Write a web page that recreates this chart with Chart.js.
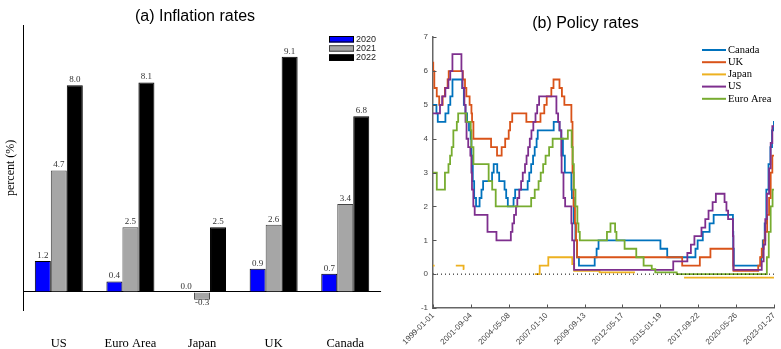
<!DOCTYPE html>
<html>
<head>
<meta charset="utf-8">
<script src="https://cdn.jsdelivr.net/npm/chart.js@4.4.1/dist/chart.umd.min.js"></script>
<style>
  body { margin: 0; background: #fff; }
  canvas { position: absolute; top: 0; }
</style>
</head>
<body>
<canvas id="inflation" width="390" height="349" style="left:0"></canvas>
<canvas id="policy" width="391" height="349" style="left:390px"></canvas>
<script>
// (a) inflation rates
const countries = ['US', 'Euro Area', 'Japan', 'UK', 'Canada'];
const infl2020 = [1.2, 0.4, 0.0, 0.9, 0.7];
const infl2021 = [4.7, 2.5, -0.3, 2.6, 3.4];
const infl2022 = [8.0, 8.1, 2.5, 9.1, 6.8];

// (b) policy rates, date the rate took effect
const caDates = ['1999-01-01','1999-03-31','1999-05-04','1999-11-17','2000-02-03','2000-03-22','2000-05-17','2001-01-23','2001-03-06','2001-04-17','2001-05-29','2001-07-17','2001-08-28','2001-09-17','2001-10-23','2001-11-27','2002-01-15','2002-04-16','2002-06-04','2002-07-16','2003-03-04','2003-04-15','2003-07-15','2003-09-03','2004-01-20','2004-03-02','2004-04-13','2004-09-08','2004-10-19','2005-09-07','2005-10-18','2005-12-06','2006-01-24','2006-03-07','2006-04-25','2006-05-24','2007-07-10','2007-12-04','2008-01-22','2008-03-04','2008-04-22','2008-10-08','2008-10-21','2008-12-09','2009-01-20','2009-03-03','2009-04-21','2010-06-01','2010-07-20','2010-09-08','2015-01-21','2015-07-15','2017-07-12','2017-09-06','2018-01-17','2018-07-11','2018-10-24','2020-03-04','2020-03-13','2020-03-27','2022-03-02','2022-04-13','2022-06-01','2022-07-13','2022-09-07','2022-10-26','2022-12-07','2023-01-25'];
const caRates = [5.0,4.75,4.5,4.75,5.0,5.25,5.75,5.5,5.0,4.75,4.5,4.25,4.0,3.5,2.75,2.25,2.0,2.25,2.5,2.75,3.0,3.25,3.0,2.75,2.5,2.25,2.0,2.25,2.5,2.75,3.0,3.25,3.5,3.75,4.0,4.25,4.5,4.25,4.0,3.5,3.0,2.5,2.25,1.5,1.0,0.5,0.25,0.5,0.75,1.0,0.75,0.5,0.75,1.0,1.25,1.5,1.75,1.25,0.75,0.25,0.5,1.0,1.5,2.5,3.25,3.75,4.25,4.5];

const ukDates = ['1999-01-01','1999-01-07','1999-02-04','1999-04-08','1999-06-10','1999-09-08','1999-11-04','2000-01-13','2000-02-10','2001-02-08','2001-04-05','2001-05-10','2001-08-02','2001-09-18','2001-10-04','2001-11-08','2003-02-06','2003-07-10','2003-11-06','2004-02-05','2004-05-06','2004-06-10','2004-08-05','2005-08-04','2006-08-03','2006-11-09','2007-01-11','2007-05-10','2007-07-05','2007-12-06','2008-02-07','2008-04-10','2008-10-08','2008-11-06','2008-12-04','2009-01-08','2009-02-05','2009-03-05','2016-08-04','2017-11-02','2018-08-02','2020-03-11','2020-03-19','2021-12-16','2022-02-03','2022-03-17','2022-05-05','2022-06-16','2022-08-04','2022-09-22','2022-11-03','2022-12-15'];
const ukRates = [6.25,6.0,5.5,5.25,5.0,5.25,5.5,5.75,6.0,5.75,5.5,5.25,5.0,4.75,4.5,4.0,3.75,3.5,3.75,4.0,4.25,4.5,4.75,4.5,4.75,5.0,5.25,5.5,5.75,5.5,5.25,5.0,4.5,3.0,2.0,1.5,1.0,0.5,0.25,0.5,0.75,0.25,0.1,0.25,0.5,0.75,1.0,1.25,1.75,2.25,3.0,3.5];

const jpDates = ['1999-01-01','1999-02-12','1999-02-13','2000-08-11','2001-02-28','2001-03-19','2001-03-20','2006-03-09','2006-07-14','2007-02-21','2008-10-31','2008-12-19','2010-10-05','2013-04-04','2013-04-05','2016-09-21'];
const jpRates = [0.25,0.25,null,0.25,0.15,0.15,null,0,0.25,0.5,0.3,0.1,0.05,0.05,null,-0.1];

const usDates = ['1999-01-01','1999-06-30','1999-08-24','1999-11-16','2000-02-02','2000-03-21','2000-05-16','2001-01-03','2001-01-31','2001-03-20','2001-04-18','2001-05-15','2001-06-27','2001-08-21','2001-09-17','2001-10-02','2001-11-06','2001-12-11','2002-11-06','2003-06-25','2004-06-30','2004-08-10','2004-09-21','2004-11-10','2004-12-14','2005-02-02','2005-03-22','2005-05-03','2005-06-30','2005-08-09','2005-09-20','2005-11-01','2005-12-13','2006-01-31','2006-03-28','2006-05-10','2006-06-29','2007-09-18','2007-10-31','2007-12-11','2008-01-22','2008-01-30','2008-03-18','2008-04-30','2008-10-08','2008-10-29','2008-12-16','2015-12-17','2016-12-15','2017-03-16','2017-06-15','2017-12-14','2018-03-22','2018-06-14','2018-09-27','2018-12-20','2019-08-01','2019-09-19','2019-10-31','2020-03-04','2020-03-16','2022-03-17','2022-05-05','2022-06-16','2022-07-28','2022-09-22','2022-11-03','2022-12-15'];
const usRates = [4.75,5.0,5.25,5.5,5.75,6.0,6.5,6.0,5.5,5.0,4.5,4.0,3.75,3.5,3.0,2.5,2.0,1.75,1.25,1.0,1.25,1.5,1.75,2.0,2.25,2.5,2.75,3.0,3.25,3.5,3.75,4.0,4.25,4.5,4.75,5.0,5.25,4.75,4.5,4.25,3.5,3.0,2.25,2.0,1.5,1.0,0.125,0.375,0.625,0.875,1.125,1.375,1.625,1.875,2.125,2.375,2.125,1.875,1.625,1.125,0.125,0.375,0.875,1.625,2.375,3.125,3.875,4.375];

const euDates = ['1999-01-01','1999-04-09','1999-11-05','2000-02-04','2000-03-17','2000-04-28','2000-06-09','2000-09-06','2000-10-11','2001-05-11','2001-08-31','2001-09-18','2001-11-09','2002-12-06','2003-03-07','2003-06-06','2005-12-06','2006-03-08','2006-06-15','2006-08-09','2006-10-11','2006-12-13','2007-03-14','2007-06-13','2008-07-09','2008-10-15','2008-11-12','2008-12-10','2009-01-21','2009-03-11','2009-04-08','2009-05-13','2011-04-13','2011-07-13','2011-11-09','2011-12-14','2012-07-11','2013-05-08','2013-11-13','2014-06-11','2014-09-10','2016-03-16','2022-07-27','2022-09-14','2022-11-02','2022-12-21'];
const euRates = [3.0,2.5,3.0,3.25,3.5,3.75,4.25,4.5,4.75,4.5,4.25,3.75,3.25,2.75,2.5,2.0,2.25,2.5,2.75,3.0,3.25,3.5,3.75,4.0,4.25,3.75,3.25,2.5,2.0,1.5,1.25,1.0,1.25,1.5,1.25,1.0,0.75,0.5,0.25,0.15,0.05,0.0,0.5,1.25,2.0,2.5];

const tickDates = ['1999-01-01','2001-09-04','2004-05-08','2007-01-10','2009-09-13','2012-05-17','2015-01-19','2017-09-22','2020-05-26','2023-01-27'];
const endDate = '2023-01-27';

const start = Date.UTC(1999, 0, 1);
function toDay(s) { return (Date.parse(s) - start) / 86400000; }
function series(dates, rates) {
  const pts = dates.map((d, i) => ({x: toDay(d), y: rates[i]}));
  pts.push({x: toDay(endDate), y: rates[rates.length - 1]});
  return pts;
}

const serif = '"Liberation Serif", "Times New Roman", serif';
const sans = '"Liberation Sans", Arial, sans-serif';

// values over the bars
const barLabels = {
  id: 'barLabels',
  afterDatasetsDraw(chart) {
    const ctx = chart.ctx;
    ctx.save();
    ctx.font = '9px ' + serif;
    ctx.fillStyle = '#333';
    ctx.textAlign = 'center';
    chart.data.datasets.forEach((ds, i) => {
      chart.getDatasetMeta(i).data.forEach((bar, j) => {
        const v = ds.data[j];
        if (v < 0) {
          ctx.textBaseline = 'top';
          ctx.fillText(v.toFixed(1), bar.x, bar.y - 2);
        } else {
          ctx.textBaseline = 'bottom';
          ctx.fillText(v.toFixed(1), bar.x, bar.y - 1);
        }
      });
    });
    ctx.restore();
  }
};

const boxLegend = {
  id: 'boxLegend',
  afterDraw(chart) {
    const ctx = chart.ctx;
    ctx.save();
    chart.data.datasets.forEach((ds, i) => {
      const y = 36 + i * 9.2;
      ctx.fillStyle = ds.backgroundColor;
      ctx.fillRect(329, y, 25, 6.5);
      ctx.strokeStyle = ds.borderColor;
      ctx.lineWidth = 1;
      ctx.strokeRect(329.5, y + 0.5, 24, 5.5);
      ctx.fillStyle = '#222';
      ctx.font = '9px ' + sans;
      ctx.textAlign = 'left';
      ctx.textBaseline = 'middle';
      ctx.fillText(ds.label, 356, y + 3.5);
    });
    ctx.restore();
  }
};

new Chart('inflation', {
  type: 'bar',
  data: {
    labels: countries,
    datasets: [
      {label: '2020', data: infl2020, backgroundColor: '#0000ff', borderColor: '#000', borderWidth: 1},
      {label: '2021', data: infl2021, backgroundColor: '#a6a6a6', borderColor: '#444', borderWidth: 1},
      {label: '2022', data: infl2022, backgroundColor: '#000', borderColor: '#000', borderWidth: 1}
    ]
  },
  options: {
    responsive: false,
    animation: false,
    categoryPercentage: 0.67,
    barPercentage: 1.0,
    layout: {padding: 0},
    plugins: {
      legend: {display: false},
      tooltip: {enabled: false},
      title: {
        display: true, text: '(a) Inflation rates', color: '#000',
        font: {family: sans, size: 16, weight: 'normal'},
        padding: {top: 6.5, bottom: 0}
      }
    },
    scales: {
      x: {
        grid: {display: false, drawTicks: false},
        border: {display: false},
        ticks: {color: '#000', font: {family: serif, size: 12.5}, padding: 26},
        afterFit: s => { s.height = 39; }
      },
      y: {
        min: -0.7, max: 10.3,
        afterBuildTicks: s => { s.ticks = [{value: 0}]; },
        ticks: {display: false},
        grid: {color: '#000', lineWidth: 1, drawTicks: false},
        border: {color: '#000', width: 1},
        title: {display: true, text: 'percent (%)', color: '#000', font: {family: serif, size: 12}},
        afterFit: s => { s.width = 23; }
      }
    }
  },
  plugins: [barLabels, boxLegend]
});

// small inward tick marks, matlab style
const innerTicks = {
  id: 'innerTicks',
  afterDraw(chart) {
    const ctx = chart.ctx, xs = chart.scales.x, ys = chart.scales.y, a = chart.chartArea;
    ctx.save();
    ctx.strokeStyle = '#555';
    ctx.lineWidth = 1;
    ctx.beginPath();
    xs.ticks.forEach(t => {
      const px = Math.round(xs.getPixelForValue(t.value)) + 0.5;
      ctx.moveTo(px, a.bottom); ctx.lineTo(px, a.bottom - 3.5);
    });
    ys.ticks.forEach(t => {
      const py = Math.round(ys.getPixelForValue(t.value)) + 0.5;
      ctx.moveTo(a.left, py); ctx.lineTo(a.left + 3.5, py);
    });
    ctx.stroke();
    ctx.restore();
  }
};

const lineLegend = {
  id: 'lineLegend',
  afterDraw(chart) {
    const ctx = chart.ctx;
    ctx.save();
    let row = 0;
    chart.data.datasets.forEach(ds => {
      if (!ds.label) return;
      const y = 50 + row * 12.2;
      ctx.strokeStyle = ds.borderColor;
      ctx.lineWidth = 2;
      ctx.beginPath();
      ctx.moveTo(312, y); ctx.lineTo(336, y);
      ctx.stroke();
      ctx.fillStyle = '#000';
      ctx.font = '10.5px ' + serif;
      ctx.textAlign = 'left';
      ctx.textBaseline = 'middle';
      ctx.fillText(ds.label, 338, y);
      row++;
    });
    ctx.restore();
  }
};

const lineStyle = {stepped: true, pointRadius: 0, borderWidth: 1.8, fill: false, spanGaps: false};

new Chart('policy', {
  type: 'line',
  data: {
    datasets: [
      {label: 'Canada', data: series(caDates, caRates), borderColor: '#0072BD', order: 5, ...lineStyle},
      {label: 'UK', data: series(ukDates, ukRates), borderColor: '#D95319', order: 4, ...lineStyle},
      {label: 'Japan', data: series(jpDates, jpRates), borderColor: '#EDB120', order: 3, ...lineStyle},
      {label: 'US', data: series(usDates, usRates), borderColor: '#7E2F8E', order: 2, ...lineStyle},
      {label: 'Euro Area', data: series(euDates, euRates), borderColor: '#77AC30', order: 1, ...lineStyle},
      {label: '', data: [{x: 0, y: 0}, {x: toDay(endDate), y: 0}], borderColor: '#000', borderWidth: 1,
       borderDash: [1, 3], pointRadius: 0, order: 0}
    ]
  },
  options: {
    responsive: false,
    animation: false,
    layout: {padding: 0},
    plugins: {
      legend: {display: false},
      tooltip: {enabled: false},
      title: {
        display: true, text: '(b) Policy rates', color: '#000',
        font: {family: sans, size: 16, weight: 'normal'},
        padding: {top: 14, bottom: 4}
      }
    },
    scales: {
      x: {
        type: 'linear',
        min: 0, max: toDay(endDate),
        afterBuildTicks: s => { s.ticks = tickDates.map(d => ({value: toDay(d)})); },
        ticks: {
          color: '#444', font: {family: sans, size: 8}, padding: 3,
          autoSkip: false, minRotation: 45, maxRotation: 45,
          callback: (v, i) => tickDates[i]
        },
        grid: {drawOnChartArea: false, drawTicks: false},
        border: {color: '#666', width: 1.5},
        afterFit: s => { s.height = 41; s.paddingRight = 7; }
      },
      y: {
        min: -1, max: 7,
        ticks: {stepSize: 1, color: '#444', font: {family: sans, size: 8}, padding: 5},
        grid: {drawOnChartArea: false, drawTicks: false},
        border: {color: '#666', width: 1.5},
        afterFit: s => { s.width = 43; }
      }
    }
  },
  plugins: [innerTicks, lineLegend]
});
</script>
</body>
</html>
